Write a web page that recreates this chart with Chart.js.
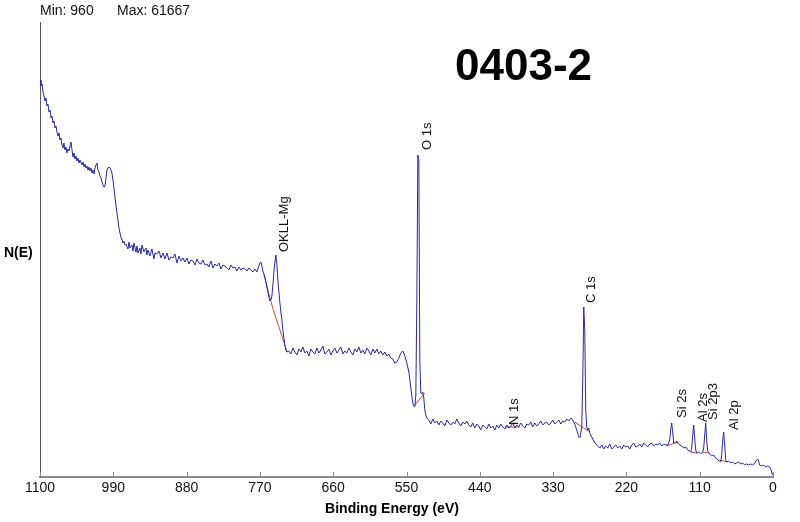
<!DOCTYPE html>
<html>
<head>
<meta charset="utf-8">
<script src="https://cdn.jsdelivr.net/npm/chart.js@4.4.1/dist/chart.umd.min.js"></script>
<style>
  html, body { margin: 0; padding: 0; background: #fff; }
  canvas { display: block; }
</style>
</head>
<body>
<canvas id="c" width="800" height="522"></canvas>
<script>
// ---------------- DATA ----------------
const xTickStep = 110;
const xMin = 0, xMax = 1100;
const yMin = 0, yMax = 91000;

// Survey spectrum: binding energy (eV) and intensity (counts)
const energy = [
  1100,1098.5,1097,1095.5,1094,1092.5,1091,1089.5,1088,1086.5,
  1085,1083.5,1082,1080.5,1079,1077.5,1076,1074.5,1073,1071.5,
  1070,1068.5,1067,1065.5,1064,1062.5,1061,1059.5,1058,1056.5,
  1055,1053.5,1052,1050.5,1049,1047.5,1046,1044.5,1043,1041.5,
  1040,1037,1035.5,1034,1032.5,1031,1029.5,1028,1026.5,1025,
  1023.5,1022,1020.5,1019,1017.5,1016,1014.5,1013,1011.5,1010,
  1008.5,1007,1005.5,1004,1002.5,1001,999.5,998,996.5,995,
  993.5,992,990.5,989,987.5,986,984.5,983,981.5,980,
  978.5,977,975.5,974,972.5,971,968,966.5,965,962,
  960.5,959,956,954.5,953,950,948.5,947,944,941,
  939.5,938,935,932,929,927.5,924.5,921.5,918.5,915.5,
  912.5,909.5,906.5,903.5,900.5,897.5,894.5,891.5,888.5,885.5,
  882.5,879.5,876.5,873.5,870.5,867.5,864.5,861.5,858.5,855.5,
  852.5,849.5,846.5,843.5,840.5,837.5,834.5,831.5,828.5,825.5,
  822.5,819.5,816.5,813.5,810.5,807.5,804.5,801.5,798.5,795.5,
  792.5,789.5,786.5,783.5,780.5,777.5,774.5,771.5,770,768.5,
  767,765.5,764,762.5,761,759.5,758,756.5,755,753.5,
  752,750.5,749,747.5,746,744.5,743,741.5,740,738.5,
  737,735.5,734,732.5,731,729.5,726.5,723.5,720.5,717.5,
  714.5,711.5,708.5,705.5,702.5,699.5,696.5,693.5,690.5,687.5,
  684.5,681.5,678.5,675.5,672.5,669.5,666.5,663.5,660.5,657.5,
  654.5,651.5,648.5,645.5,642.5,639.5,636.5,633.5,630.5,627.5,
  624.5,621.5,618.5,615.5,612.5,609.5,606.5,603.5,600.5,597.5,
  594.5,591.5,588.5,585.5,582.5,579.5,576.5,573.5,570.5,567.5,
  564.5,561.5,558.5,555.5,552.5,549.5,546.5,545,543.5,542,
  540.5,539,537.5,536,534.5,533,531.5,530,528.5,527,
  525.5,524,522.5,521,519.5,516.5,513.5,510.5,507.5,504.5,
  501.5,498.5,495.5,492.5,489.5,486.5,483.5,480.5,477.5,474.5,
  471.5,468.5,465.5,462.5,459.5,456.5,453.5,450.5,447.5,444.5,
  441.5,438.5,435.5,432.5,429.5,426.5,423.5,420.5,417.5,414.5,
  411.5,408.5,405.5,402.5,399.5,396.5,393.5,390.5,387.5,384.5,
  381.5,378.5,375.5,372.5,369.5,366.5,363.5,360.5,357.5,354.5,
  351.5,348.5,345.5,342.5,339.5,336.5,333.5,330.5,327.5,324.5,
  321.5,318.5,315.5,312.5,309.5,306.5,303.5,300.5,297.5,294.5,
  291.5,290,288.5,287,285.5,284,282.5,281,279.5,278,
  276.5,275,272,269,266,263,260,257,254,251,
  248,245,242,239,236,233,230,227,224,221,
  218,215,212,209,206,203,200,197,194,191,
  188,185,182,179,176,173,170,167,164,161,
  158,155,153.5,152,150.5,149,147.5,146,144.5,143,
  140,137,134,131,128,125,123.5,122,120.5,119,
  117.5,116,114.5,111.5,108.5,105.5,104,102.5,101,99.5,
  98,95,92,89,86,83,80,78.5,77,75.5,
  74,72.5,71,69.5,66.5,63.5,60.5,57.5,54.5,51.5,
  48.5,45.5,42.5,39.5,36.5,33.5,30.5,27.5,24.5,23,
  21.5,20,17,14,11,8,5,3.5,2,0.5
];
const counts = [
  79400,78200,78600,77000,76200,75200,75800,74200,74600,73000,
  73400,71800,72200,70800,71200,69800,70200,69000,68200,68800,
  67400,67800,66400,65800,66800,65400,66000,64800,65600,65200,
  66200,67000,65400,64000,64800,63600,64200,63200,63800,62800,
  63400,62400,63000,62000,62600,61800,62200,61400,62000,61200,
  61800,60800,61400,60600,61800,62400,62800,61400,61000,60200,
  59800,59000,58400,58000,58200,59800,61400,61800,62000,61800,
  61400,60800,59400,57800,56000,54400,52800,51400,49800,48800,
  48000,47400,46800,47200,46400,46600,45600,47000,45800,46400,
  45200,46800,45000,46200,44800,45800,44600,46400,45000,45800,
  44400,45400,44200,45600,43600,44800,44600,45200,43800,44800,
  43600,44800,43400,44000,43800,44600,42800,44200,43200,43800,
  43000,43800,42600,43400,43200,42400,43600,42800,42600,43400,
  42400,42600,42000,43200,41800,42600,42200,42800,41600,42400,
  42200,41800,41400,42400,41800,42000,41200,42000,41400,41800,
  41600,41200,41800,41400,41000,41600,41000,42200,42800,43000,
  42200,41200,40600,40000,39000,38000,37000,36000,35200,35400,
  36200,38400,41000,43000,44400,42400,39400,37000,34800,33000,
  31400,29400,27800,26400,25400,25000,25200,24600,25800,25000,
  24400,25600,25000,26000,24800,25200,24200,25600,25000,24600,
  25800,24800,25400,26200,24600,25000,25600,24400,25200,25800,
  24800,25400,26000,24600,25200,24800,25800,25000,24400,25600,
  25000,26000,24800,25400,24600,25800,25200,24400,25600,24800,
  25600,24600,25200,24400,25000,24200,24600,23800,23600,22800,
  23000,23800,24800,25200,24200,22800,21000,19400,17800,16200,
  14800,14200,14000,16400,35400,64400,63400,23400,16800,16600,
  17000,15800,13400,12400,11800,11400,10600,11600,10800,11200,
  10400,11200,10800,10200,11400,10800,10400,11000,10600,11600,
  10800,10200,11000,10600,11200,10400,10000,10800,9800,10600,
  10200,9400,10400,10000,9600,10600,9800,10200,9400,10400,
  9800,10600,10000,9600,10400,9800,10200,10800,9800,10400,
  10000,10800,10200,9800,10600,10400,11000,10000,10800,10200,
  10600,11200,10400,10800,11000,10400,10800,11400,10600,11000,
  11400,10600,11200,11000,11600,11200,11800,11400,10600,9400,
  8000,7800,8800,10000,19400,34000,29400,13400,10000,9400,
  9800,8800,8000,7200,6600,6200,5800,6400,5600,6200,
  5800,6600,5600,6000,6400,5800,6200,5600,6400,6000,
  6200,5600,6400,6800,6000,6200,6600,6000,6800,6400,
  6000,6600,6800,6200,6600,6400,6800,6200,6600,6400,
  6400,7400,9400,10800,9000,6800,6800,7000,7200,6800,
  6400,6200,5800,6000,5400,5200,5000,5800,8400,10400,
  7800,5400,4800,5000,4600,5000,5800,8400,10800,7400,
  5200,4600,4200,4400,3800,3400,3200,3000,4400,7400,
  9000,6400,3400,3000,3200,2800,3000,2600,2800,3000,
  2600,2800,2400,2600,2400,2600,2400,2800,3400,3600,
  3200,2400,2200,2400,2000,2200,2000,1600,1000,400
];

// Peak background (baseline) segments
const bgSegmentsE = [
  [764,758,752,746,740,734,729.5],
  [537.5,522.5],
  [402.5,380],
  [297.5,275],
  [160.5,143],
  [123.5,114.5],
  [105.5,96.5],
  [80,68]
];
const bgSegmentsC = [
  [40600,37400,34400,31800,29400,27000,25000],
  [14400,16800],
  [10000,10000],
  [11000,9000],
  [6200,7000],
  [5000,4800],
  [5000,4800],
  [3400,3000]
];

// Peak labels
const peakNames  = ['OKLL-Mg','O 1s','N 1s','C 1s','Si 2s','Al 2s','Si 2p3','Al 2p'];
const peakLabelE = [732.5, 518, 387.5, 272, 135.5, 104, 89, 57.5];
const peakLabelC = [45000, 65400, 10400, 34800, 11800, 11000, 11400, 9400];

const headerMin = 'Min: 960';
const headerMax = 'Max: 61667';
const sampleName = '0403-2';
const xTitle = 'Binding Energy (eV)';
const yTitle = 'N(E)';

// ---------------- CHART ----------------
const FONT = "'Liberation Sans', Arial, sans-serif";

const datasets = [{
  data: energy.map((e, i) => ({ x: e, y: counts[i] })),
  showLine: true,
  borderColor: 'rgb(40,40,165)',
  borderWidth: 1,
  pointRadius: 0,
  tension: 0
}];
bgSegmentsE.forEach((seg, k) => {
  datasets.push({
    data: seg.map((e, i) => ({ x: e, y: bgSegmentsC[k][i] })),
    showLine: true,
    borderColor: 'rgb(205,70,70)',
    borderWidth: 1,
    pointRadius: 0,
    tension: 0
  });
});

const decor = {
  id: 'decor',
  afterDraw(chart) {
    const ctx = chart.ctx;
    const xs = chart.scales.x, ys = chart.scales.y;
    const ca = chart.chartArea;
    ctx.save();
    // inward tick marks
    ctx.strokeStyle = '#8a8a8a';
    ctx.lineWidth = 1;
    xs.ticks.forEach(t => {
      const px = Math.round(xs.getPixelForValue(t.value)) + 0.5;
      ctx.beginPath();
      ctx.moveTo(px, ca.bottom);
      ctx.lineTo(px, ca.bottom - 5);
      ctx.stroke();
    });
    // header texts
    ctx.fillStyle = '#111';
    ctx.textBaseline = 'alphabetic';
    ctx.textAlign = 'left';
    ctx.font = '14px ' + FONT;
    ctx.fillText(headerMin, 40, 15);
    ctx.fillText(headerMax, 117, 15);
    ctx.fillStyle = '#000';
    ctx.font = 'bold 44px ' + FONT;
    ctx.fillText(sampleName, 455, 80);
    ctx.font = 'bold 14px ' + FONT;
    ctx.fillText(yTitle, 4, 257);
    ctx.textAlign = 'center';
    ctx.fillText(xTitle, 392, 513);
    // peak labels (rotated)
    ctx.font = '13px ' + FONT;
    ctx.fillStyle = '#111';
    peakNames.forEach((name, i) => {
      const px = xs.getPixelForValue(peakLabelE[i]);
      const py = ys.getPixelForValue(peakLabelC[i]);
      ctx.save();
      ctx.translate(px, py);
      ctx.rotate(-Math.PI / 2);
      ctx.textAlign = 'left';
      ctx.textBaseline = 'middle';
      ctx.fillText(name, 0, 0);
      ctx.restore();
    });
    ctx.restore();
  }
};

new Chart(document.getElementById('c'), {
  type: 'scatter',
  data: { datasets },
  options: {
    responsive: false,
    animation: false,
    devicePixelRatio: 1,
    layout: { padding: { top: 22, right: 27, left: 0, bottom: 0 } },
    plugins: { legend: { display: false }, tooltip: { enabled: false } },
    scales: {
      x: {
        type: 'linear',
        reverse: true,
        min: xMin,
        max: xMax,
        ticks: {
          stepSize: xTickStep,
          autoSkip: false,
          maxRotation: 0,
          color: '#111',
          padding: 3,
          font: { family: FONT, size: 14 },
          callback: v => String(v)
        },
        grid: { display: false, drawTicks: false },
        border: { display: true, color: '#8a8a8a', width: 2 },
        afterFit(s) { s.height = 45; }
      },
      y: {
        min: yMin,
        max: yMax,
        ticks: { display: false },
        grid: { display: false, drawTicks: false },
        border: { display: true, color: '#555', width: 1 },
        afterFit(s) { s.width = 40; }
      }
    }
  },
  plugins: [decor]
});
</script>
</body>
</html>
